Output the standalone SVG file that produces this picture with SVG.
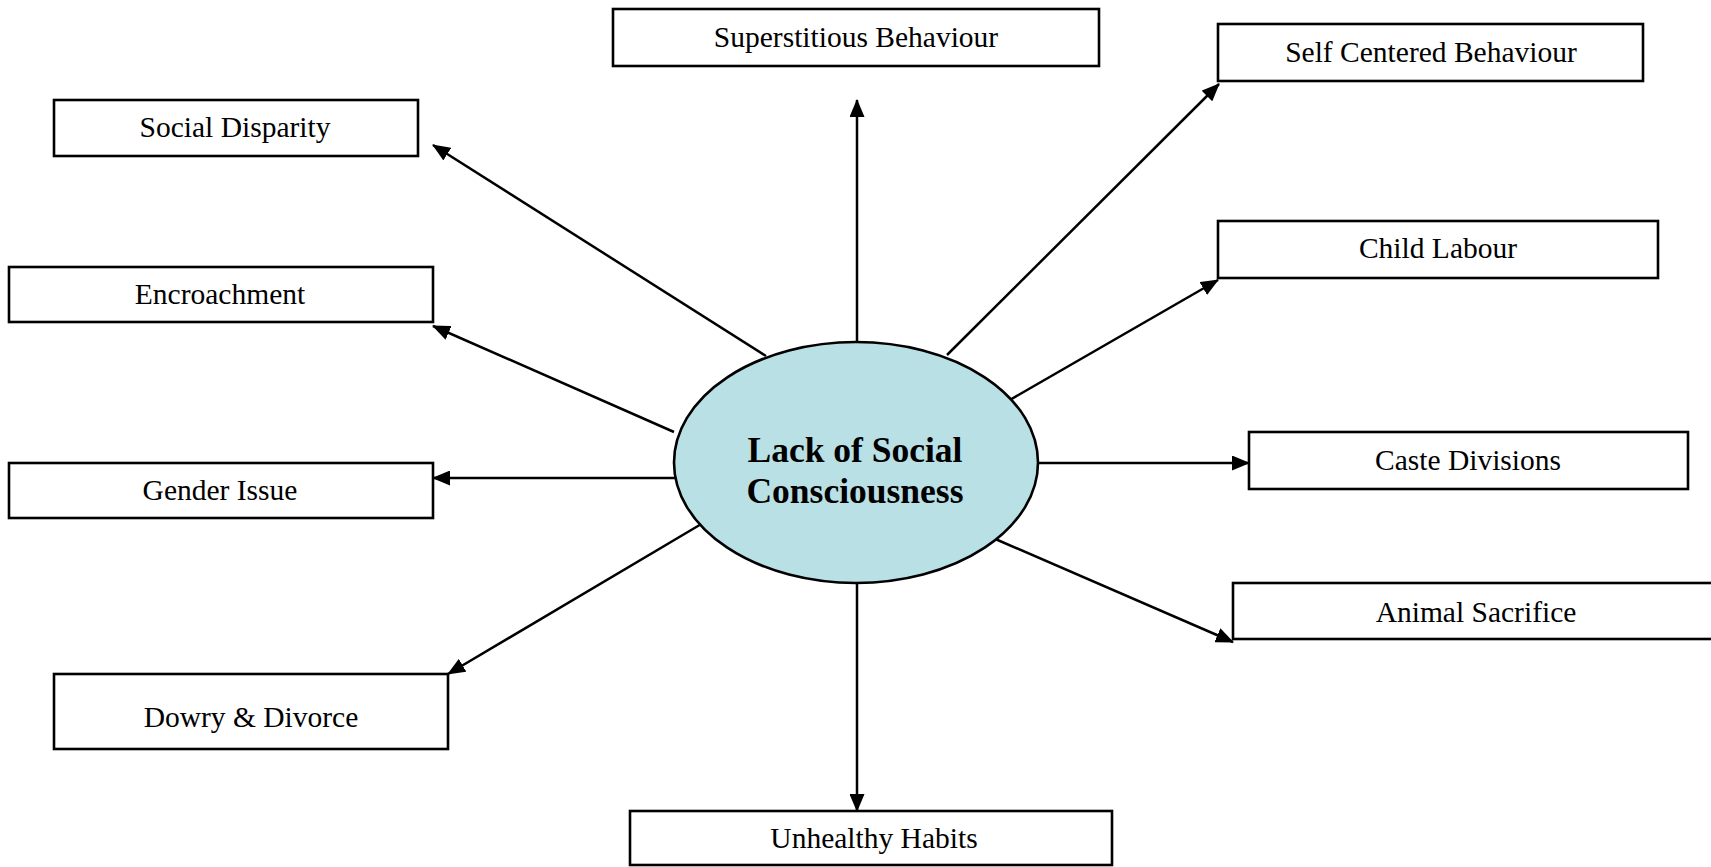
<svg xmlns="http://www.w3.org/2000/svg" width="1711" height="867" viewBox="0 0 1711 867">
<style>
.box{fill:#fff;stroke:#000;stroke-width:2.6}
.lbl{font-family:"Liberation Serif","Times New Roman",serif;font-size:29.5px;fill:#000;text-anchor:middle}
.ctr{font-family:"Liberation Serif","Times New Roman",serif;font-size:35.5px;font-weight:bold;fill:#000;text-anchor:middle}
.conn line{stroke:#000;stroke-width:2.5;marker-end:url(#ah)}
</style>
<defs>
<marker id="ah" markerUnits="userSpaceOnUse" markerWidth="18" markerHeight="15" refX="17" refY="7.5" orient="auto">
<path d="M0,0 L18,7.5 L0,15 z" fill="#000"/>
</marker>
</defs>
<rect width="1711" height="867" fill="#fff"/>
<g id="connectors" class="conn">
<line x1="857" y1="342" x2="857" y2="100"/>
<line x1="947" y1="355" x2="1219" y2="84"/>
<line x1="1008" y1="401" x2="1218" y2="280"/>
<line x1="1038" y1="463" x2="1249" y2="463"/>
<line x1="993" y1="538" x2="1233" y2="642"/>
<line x1="857" y1="583" x2="857" y2="811"/>
<line x1="703" y1="523" x2="448" y2="674"/>
<line x1="675" y1="478" x2="433" y2="478"/>
<line x1="674" y1="432" x2="433" y2="326"/>
<line x1="766" y1="356" x2="433" y2="145"/>
</g>
<g id="center">
<ellipse cx="856" cy="462.5" rx="182" ry="120.5" fill="#B9E0E4" stroke="#000" stroke-width="2.6"/>
<text class="ctr" x="855" y="462">Lack of Social</text>
<text class="ctr" x="855" y="503">Consciousness</text>
</g>
<g id="superstitious"><rect class="box" x="613" y="9" width="486" height="57"/><text class="lbl" x="856" y="47">Superstitious Behaviour</text></g>
<g id="selfcentered"><rect class="box" x="1218" y="24" width="425" height="57"/><text class="lbl" x="1431" y="62">Self Centered Behaviour</text></g>
<g id="socialdisparity"><rect class="box" x="54" y="100" width="364" height="56"/><text class="lbl" x="235" y="137">Social Disparity</text></g>
<g id="childlabour"><rect class="box" x="1218" y="221" width="440" height="57"/><text class="lbl" x="1438" y="258">Child Labour</text></g>
<g id="encroachment"><rect class="box" x="9" y="267" width="424" height="55"/><text class="lbl" x="220" y="304">Encroachment</text></g>
<g id="caste"><rect class="box" x="1249" y="432" width="439" height="57"/><text class="lbl" x="1468" y="470">Caste Divisions</text></g>
<g id="gender"><rect class="box" x="9" y="463" width="424" height="55"/><text class="lbl" x="220" y="500">Gender Issue</text></g>
<g id="animal"><rect class="box" x="1233" y="583" width="486" height="56"/><text class="lbl" x="1476" y="622">Animal Sacrifice</text></g>
<g id="dowry"><rect class="box" x="54" y="674" width="394" height="75"/><text class="lbl" x="251" y="727">Dowry &amp; Divorce</text></g>
<g id="unhealthy"><rect class="box" x="630" y="811" width="482" height="54"/><text class="lbl" x="874" y="848">Unhealthy Habits</text></g>
</svg>
